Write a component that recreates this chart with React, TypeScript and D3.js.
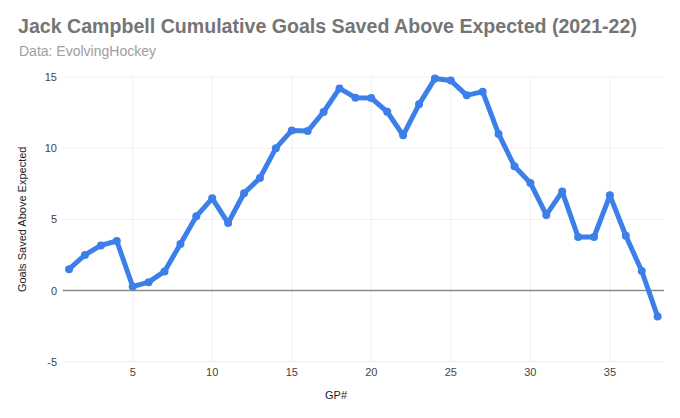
import React from "react";
import * as d3 from "d3";

const gamesPlayed = [
  1, 2, 3, 4, 5, 6, 7, 8, 9, 10, 11, 12, 13, 14, 15, 16, 17, 18, 19, 20, 21, 22, 23, 24, 25, 26, 27, 28, 29, 30, 31, 32, 33, 34, 35, 36, 37, 38,
];
const gsaxValues = [
  1.5, 2.5, 3.17, 3.48, 0.28, 0.59, 1.34, 3.27, 5.21, 6.48, 4.74, 6.83, 7.91, 10.0, 11.25, 11.2, 12.54, 14.2, 13.55, 13.52, 12.56, 10.9, 13.08,
  14.89, 14.75, 13.71, 13.97, 11.0, 8.73, 7.56, 5.31, 6.95, 3.76, 3.76, 6.69, 3.85, 1.37, -1.83,
];
const xTicks = [5, 10, 15, 20, 25, 30, 35];
const yTicks = [-5, 0, 5, 10, 15];

const title = "Jack Campbell Cumulative Goals Saved Above Expected (2021-22)";
const subtitle = "Data: EvolvingHockey";
const xLabel = "GP#";
const yLabel = "Goals Saved Above Expected";

export default function App() {
  const W = 680;
  const H = 418;
  const left = 62.7;
  const right = 664;
  const top = 77;
  const bottom = 361.7;
  const x = d3.scaleLinear().domain([0.6, 38.4]).range([left, right]);
  const y = d3.scaleLinear().domain([-5, 15]).range([bottom, top]);
  const data = gamesPlayed.map((g, i) => ({ g, v: gsaxValues[i] }));
  const line = d3
    .line<{ g: number; v: number }>()
    .x((d) => x(d.g))
    .y((d) => y(d.v));
  const font = "'Liberation Sans', Arial, sans-serif";
  return (
    <svg
      width={W}
      height={H}
      style={{ position: "absolute", left: 0, top: 0, background: "#fff" }}
      fontFamily={font}
    >
      <rect x={0} y={0} width={W} height={H} fill="#fff" />
      <text x={18} y={33} fontSize={19.6} fontWeight="bold" fill="#757575">
        {title}
      </text>
      <text x={19} y={55.5} fontSize={14} fill="#9e9e9e">
        {subtitle}
      </text>
      {yTicks.map((t) => (
        <line key={"gy" + t} x1={left} x2={right} y1={y(t)} y2={y(t)} stroke="#f0f0f0" strokeWidth={1} />
      ))}
      {xTicks.map((t) => (
        <line key={"gx" + t} x1={x(t)} x2={x(t)} y1={top} y2={bottom} stroke="#f0f0f0" strokeWidth={1} />
      ))}
      <line x1={left} x2={right} y1={y(0)} y2={y(0)} stroke="#8a8a8a" strokeWidth={1.5} />
      {yTicks.map((t) => (
        <text key={"ty" + t} x={57} y={y(t) + 4} fontSize={11} fill="#444" textAnchor="end">
          {t}
        </text>
      ))}
      {xTicks.map((t) => (
        <text key={"tx" + t} x={x(t)} y={376} fontSize={11} fill="#444" textAnchor="middle">
          {t}
        </text>
      ))}
      <text x={336} y={399} fontSize={11} fill="#222" textAnchor="middle">
        {xLabel}
      </text>
      <text
        transform={`translate(26, ${(top + bottom) / 2}) rotate(-90)`}
        fontSize={11}
        fill="#222"
        textAnchor="middle"
      >
        {yLabel}
      </text>
      <path d={line(data) || ""} fill="none" stroke="#3d7fe8" strokeWidth={5} strokeLinejoin="round" strokeLinecap="round" />
      {data.map((d) => (
        <circle key={d.g} cx={x(d.g)} cy={y(d.v)} r={4} fill="#3d7fe8" />
      ))}
    </svg>
  );
}
